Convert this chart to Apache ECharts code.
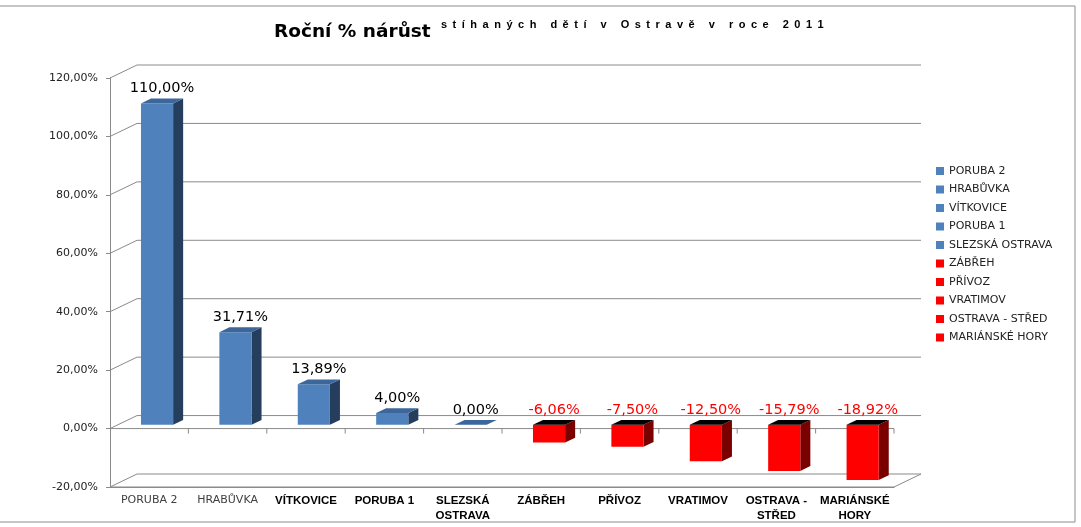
<!DOCTYPE html>
<html>
<head>
<meta charset="utf-8">
<script src="https://cdn.jsdelivr.net/npm/echarts@6/dist/echarts.min.js"></script>
<style>
  html, body { margin: 0; padding: 0; background: #fff; }
  #chart { width: 1081px; height: 527px; }
</style>
</head>
<body>
<div id="chart"></div>
<script>
// data
const categories = ['PORUBA 2', 'HRABŮVKA', 'VÍTKOVICE', 'PORUBA 1', 'SLEZSKÁ OSTRAVA',
  'ZÁBŘEH', 'PŘÍVOZ', 'VRATIMOV', 'OSTRAVA - STŘED', 'MARIÁNSKÉ HORY'];
const axisLabels = ['PORUBA 2', 'HRABŮVKA', 'VÍTKOVICE', 'PORUBA 1', 'SLEZSKÁ\nOSTRAVA',
  'ZÁBŘEH', 'PŘÍVOZ', 'VRATIMOV', 'OSTRAVA -\nSTŘED', 'MARIÁNSKÉ\nHORY'];
const growth = [110.00, 31.71, 13.89, 4.00, 0.00, -6.06, -7.50, -12.50, -15.79, -18.92];
const yTicks = [-20, 0, 20, 40, 60, 80, 100, 120];

const titleMain = 'Roční % nárůst';
const titleSub = 'stíhaných dětí v Ostravě v roce 2011';

// pseudo 3D look
const DX = 27, DY = 13;        // back wall offset
const K = DY / DX;
const AXIS_GREY = '#8a8a8a';

const blue = { front: '#4F81BD', top: '#3D669A', side: '#253E5E' };
const red = { front: '#FF0000', top: '#000000', side: '#7A0000' };

const pct = v => v.toFixed(2).replace('.', ',') + '%';

function renderWall(params, api) {
  const v = api.value(1);
  const cs = params.coordSys;
  const y = api.coord([0, v])[1];
  const x0 = cs.x, x1 = cs.x + cs.width;
  const st = { stroke: AXIS_GREY, lineWidth: 1, fill: null };
  const kids = [{
    type: 'polyline',
    shape: { points: [[x0, y], [x0 + DX, y - DY], [x1 + DX, y - DY]] },
    style: st
  }];
  if (v === 0 || v === -20) {
    kids.push({ type: 'line', shape: { x1: x0, y1: y, x2: x1, y2: y }, style: st });
  }
  if (v === -20) {
    kids.push({ type: 'line', shape: { x1: x1, y1: y, x2: x1 + DX, y2: y - DY }, style: st });
  }
  if (v === 0) {
    const band = api.size([1, 0])[0];
    for (let i = 1; i <= categories.length; i++) {
      const x = x0 + band * i;
      kids.push({ type: 'line', shape: { x1: x, y1: y, x2: x, y2: y + 5 }, style: st });
    }
  }
  return { type: 'group', children: kids };
}

function renderBar(params, api) {
  const i = api.value(0), v = api.value(1);
  const band = api.size([1, 0])[0];
  const c = api.coord([i, 0]);
  const t = api.coord([i, v]);
  const w = band * 0.41;
  const ox = band * 0.1, oy = -ox * K;
  const dx = band * 0.128, dy = dx * K;
  const xL = c[0] + ox - w / 2, xR = xL + w;
  const yTop = Math.min(c[1], t[1]) + oy;
  const yBot = Math.max(c[1], t[1]) + oy;
  const col = v < 0 ? red : blue;
  const kids = [];
  if (yBot - yTop > 0.5) {
    kids.push({
      type: 'polygon',
      shape: { points: [[xR, yTop], [xR + dx, yTop - dy], [xR + dx, yBot - dy], [xR, yBot]] },
      style: { fill: col.side }
    });
    kids.push({
      type: 'rect',
      shape: { x: xL, y: yTop, width: w, height: yBot - yTop },
      style: { fill: col.front }
    });
  }
  kids.push({
    type: 'polygon',
    shape: { points: [[xL, yTop], [xR, yTop], [xR + dx, yTop - dy], [xL + dx, yTop - dy]] },
    style: { fill: col.top }
  });
  kids.push({
    type: 'text',
    style: {
      text: pct(v),
      x: xL + w / 2 + dx / 2,
      y: yTop - dy - 10,
      align: 'center',
      verticalAlign: 'middle',
      fill: v < 0 ? '#FF0000' : '#000000',
      font: '14.5px "DejaVu Sans"'
    }
  });
  return { type: 'group', children: kids };
}

const barSeries = categories.map((name, i) => ({
  name: name,
  type: 'custom',
  renderItem: renderBar,
  encode: { x: 0, y: 1 },
  itemStyle: { color: growth[i] < 0 ? red.front : blue.front },
  data: [[i, growth[i]]],
  z: 3,
  silent: true
}));

const option = {
  animation: false,
  backgroundColor: '#fff',
  title: [{
    text: titleMain,
    left: 274, top: 23, padding: 0,
    textStyle: { fontFamily: 'DejaVu Sans', fontWeight: 'bold', fontSize: 18.5, color: '#000' }
  }, {
    text: titleSub.split('').join('\u2002'),
    left: 441, top: 19, padding: 0,
    textStyle: { fontFamily: 'Liberation Sans', fontWeight: 'bold', fontSize: 11, color: '#000' }
  }],
  legend: {
    data: categories,
    orient: 'vertical',
    left: 936, top: 165,
    padding: 0,
    icon: 'rect',
    itemWidth: 8, itemHeight: 8,
    itemGap: 6.5,
    selectedMode: false,
    textStyle: { fontFamily: 'DejaVu Sans', fontSize: 11, color: '#222', lineHeight: 12 }
  },
  grid: { left: 110, top: 78, width: 784, bottom: 40 },
  xAxis: {
    type: 'category',
    data: axisLabels,
    axisLine: { onZero: false, lineStyle: { color: AXIS_GREY } },
    axisTick: { length: 5, lineStyle: { color: AXIS_GREY } },
    axisLabel: {
      interval: 0,
      margin: 6,
      formatter: (val, idx) => val.split('\n').map(s => (idx < 2 ? '{n|' : '{b|') + s + '}').join('\n'),
      rich: {
        n: { fontFamily: 'DejaVu Sans', fontSize: 11, color: '#404040', lineHeight: 15 },
        b: { fontFamily: 'Liberation Sans', fontWeight: 'bold', fontSize: 11.5, color: '#000', lineHeight: 15 }
      }
    }
  },
  yAxis: {
    type: 'value',
    min: -20, max: 120, interval: 20,
    axisLine: { show: true, lineStyle: { color: AXIS_GREY } },
    axisTick: { show: true, length: 4, lineStyle: { color: AXIS_GREY } },
    splitLine: { show: false },
    axisLabel: {
      margin: 12,
      fontFamily: 'DejaVu Sans', fontSize: 11, color: '#222',
      formatter: v => pct(v)
    }
  },
  series: [{
    name: 'walls',
    type: 'custom',
    renderItem: renderWall,
    encode: { x: 0, y: 1 },
    data: yTicks.map(v => [0, v]),
    z: 1,
    silent: true
  }].concat(barSeries),
  graphic: [{
    type: 'rect',
    shape: { x: -1, y: 6, width: 1076, height: 516 },
    style: { fill: null, stroke: '#8c8c8c', lineWidth: 1 },
    silent: true, z: -1
  }]
};

const chart = echarts.init(document.getElementById('chart'));
chart.setOption(option);
</script>
</body>
</html>
